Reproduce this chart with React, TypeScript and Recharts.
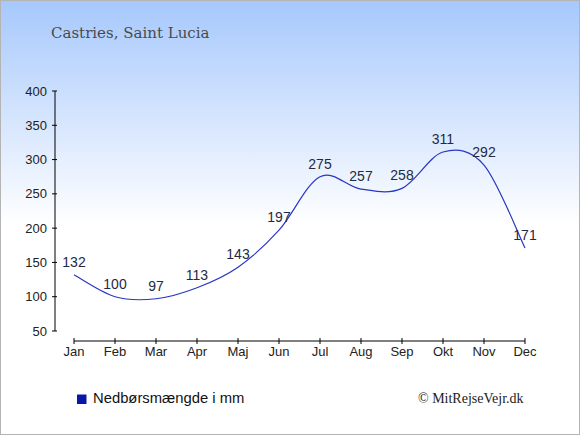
import React from "react";
import { LineChart, Line, XAxis, YAxis, LabelList } from "recharts";

const months = ["Jan", "Feb", "Mar", "Apr", "Maj", "Jun", "Jul", "Aug", "Sep", "Okt", "Nov", "Dec"];
const rainfall = [132, 100, 97, 113, 143, 197, 275, 257, 258, 311, 292, 171];
const yTicks = [50, 100, 150, 200, 250, 300, 350, 400];

const data = months.map((m, i) => ({ month: m, rain: rainfall[i] }));

// catmull-rom style curve so the line swings a little past the points like the original
function smoothCurve(context: any) {
  let pts: number[][] = [];
  return {
    areaStart() {},
    areaEnd() {},
    lineStart() {
      pts = [];
    },
    lineEnd() {
      const n = pts.length;
      if (!n) return;
      context.moveTo(pts[0][0], pts[0][1]);
      for (let i = 0; i < n - 1; i++) {
        const p0 = pts[Math.max(i - 1, 0)];
        const p1 = pts[i];
        const p2 = pts[i + 1];
        const p3 = pts[Math.min(i + 2, n - 1)];
        context.bezierCurveTo(
          p1[0] + (p2[0] - p0[0]) / 6,
          p1[1] + (p2[1] - p0[1]) / 6,
          p2[0] - (p3[0] - p1[0]) / 6,
          p2[1] - (p3[1] - p1[1]) / 6,
          p2[0],
          p2[1]
        );
      }
    },
    point(x: number, y: number) {
      pts.push([+x, +y]);
    },
  };
}

const sans = "'Liberation Sans', Arial, sans-serif";

export default function App() {
  return (
    <div
      style={{
        position: "fixed",
        left: 0,
        top: 0,
        width: 580,
        height: 435,
        background: "linear-gradient(to bottom, #a6c8fc 0px, #ffffff 225px)",
        boxShadow: "inset 0 0 0 1px #b4b4b4",
      }}
    >
      <LineChart
        width={580}
        height={435}
        data={data}
        margin={{ top: 91, right: 55, left: 0, bottom: 74 }}
      >
        <XAxis
          dataKey="month"
          height={30}
          padding={{ left: 19, right: 0 }}
          tickSize={6}
          tickMargin={10}
          axisLine={{ stroke: "#000", strokeDasharray: "0 19 1000", transform: "translate(0,10)" }}
          tickLine={{ stroke: "#000", transform: "translate(0,7)" }}
          tick={{ fill: "#222", fontSize: 13, fontFamily: sans }}
          interval={0}
        />
        <YAxis
          width={55}
          domain={[50, 400]}
          ticks={yTicks}
          tickSize={5}
          tickMargin={3}
          axisLine={{ stroke: "#000" }}
          tickLine={{ stroke: "#000", transform: "translate(2,0)" }}
          tick={{ fill: "#222", fontSize: 13, fontFamily: sans }}
          allowDataOverflow
        />
        <Line
          dataKey="rain"
          type={smoothCurve as any}
          stroke="#2a36c4"
          strokeWidth={1.2}
          dot={false}
          activeDot={false}
          isAnimationActive={false}
        >
          <LabelList
            dataKey="rain"
            position="top"
            offset={8}
            fill="#1f2a44"
            fontSize={14}
            fontFamily={sans}
          />
        </Line>
      </LineChart>
      <svg
        width={580}
        height={435}
        style={{ position: "absolute", left: 0, top: 0, pointerEvents: "none" }}
      >
        <text x={51} y={37.7} fontFamily="'DejaVu Serif', serif" fontSize={15} fill="#4a4a4a">
          Castries, Saint Lucia
        </text>
        <rect x={77} y={394.5} width={9.5} height={9.5} fill="#0a16a8" />
        <text x={93} y={403.3} fontFamily={sans} fontSize={14.8} fill="#111">
          Nedbørsmængde i mm
        </text>
        <text x={418} y={402.8} fontFamily="'Liberation Serif', 'Times New Roman', serif" fontSize={14} fill="#222">
          © MitRejseVejr.dk
        </text>
      </svg>
    </div>
  );
}
